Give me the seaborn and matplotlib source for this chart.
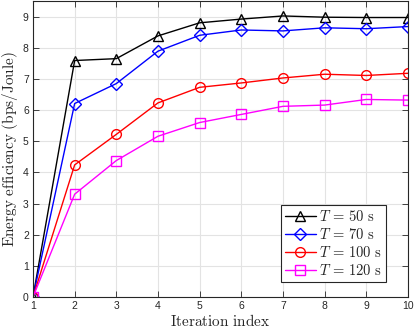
import matplotlib
matplotlib.use("Agg")
import matplotlib.pyplot as plt
import seaborn as sns
import pandas as pd

# datos
iterations = [1, 2, 3, 4, 5, 6, 7, 8, 9, 10]
ee_t50 = [0.0, 7.59, 7.65, 8.38, 8.80, 8.92, 9.02, 8.98, 8.97, 8.97]
ee_t70 = [0.0, 6.21, 6.85, 7.89, 8.40, 8.57, 8.54, 8.64, 8.61, 8.68]
ee_t100 = [0.0, 4.24, 5.22, 6.23, 6.73, 6.87, 7.03, 7.15, 7.11, 7.18]
ee_t120 = [0.0, 3.30, 4.38, 5.16, 5.60, 5.86, 6.12, 6.16, 6.34, 6.32]
labels = [r'$T\,=\,50\ \mathrm{s}$', r'$T\,=\,70\ \mathrm{s}$',
          r'$T\,=\,100\ \mathrm{s}$', r'$T\,=\,120\ \mathrm{s}$']

series = [ee_t50, ee_t70, ee_t100, ee_t120]
colors = ['black', 'blue', 'red', 'magenta']
markers = ['^', 'D', 'o', 's']

sns.set_style('whitegrid')
plt.rcParams['font.family'] = ['Liberation Sans', 'DejaVu Sans']
plt.rcParams['mathtext.fontset'] = 'cm'

fig = plt.figure(figsize=(4.15, 3.33), dpi=100)
ax = fig.add_axes([0.0795, 0.108, 0.9035, 0.889])

for vals, lab, col, mk in zip(series, labels, colors, markers):
    df = pd.DataFrame({'iter': iterations, 'ee': vals})
    sns.lineplot(data=df, x='iter', y='ee', ax=ax, color=col, marker=mk,
                 markersize=7 if mk != 'D' else 6, mfc='none', mec=col,
                 mew=1.0, lw=1.0, label=lab)

ax.set_xlim(1, 10)
ax.set_ylim(0, 9.5)
ax.set_xticks(iterations)
ax.set_yticks(range(0, 10))
ax.grid(True, color='#e3e3e3', lw=0.8)
for s in ax.spines.values():
    s.set_color('#262626')
    s.set_linewidth(0.8)
ax.tick_params(direction='in', length=4, width=0.6, color='#262626',
               labelsize=7.5, labelcolor='#262626', top=True, right=True,
               bottom=True, left=True, pad=3)

ax.set_xlabel(r'$\mathrm{Iteration\ index}$', fontsize=11, labelpad=1)
ax.set_ylabel(r'$\mathrm{Energy\ efficiency\ (bps/Joule)}$', fontsize=11, labelpad=2)

leg = ax.legend(loc='lower right', fontsize=10.5, frameon=True, fancybox=False,
                edgecolor='#262626', framealpha=1, handlelength=2.1,
                handletextpad=0.2, borderpad=0.3, labelspacing=0.2,
                bbox_to_anchor=(0.96, 0.025))
leg.get_frame().set_linewidth(0.8)

fig.savefig('out.png', dpi=100)
